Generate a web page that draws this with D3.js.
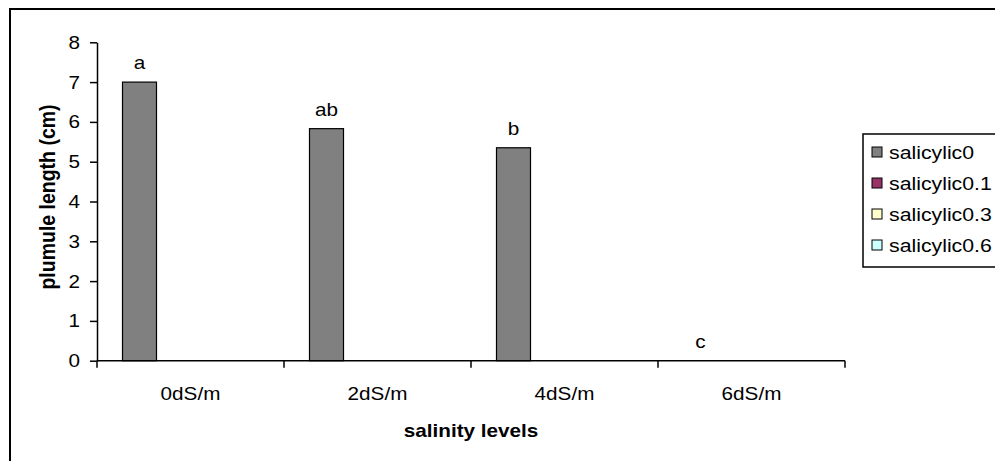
<!DOCTYPE html>
<html>
<head>
<meta charset="utf-8">
<script src="https://cdn.jsdelivr.net/npm/d3@7"></script>
<style>
  body { margin: 0; background: #fff; }
  text { font-family: "Liberation Sans", Arial, sans-serif; fill: #000; }
</style>
</head>
<body>
<svg id="chart" width="995" height="461"></svg>
<script>
var svg = d3.select("#chart");

// Data
var categories = ["0dS/m", "2dS/m", "4dS/m", "6dS/m"];
var seriesNames = ["salicylic0", "salicylic0.1", "salicylic0.3", "salicylic0.6"];
var salicylic0 = [7.0, 5.83, 5.35, 0];
var salicylic01 = [0, 0, 0, 0];
var salicylic03 = [0, 0, 0, 0];
var salicylic06 = [0, 0, 0, 0];
var letters = ["a", "ab", "b", "c"];
var yTicks = [0, 1, 2, 3, 4, 5, 6, 7, 8];

// Colors (Excel palette)
var colors = ["#808080", "#993366", "#FFFFCC", "#CCFFFF"];

// Dimensions
var dim = { left: 97, right: 845, top: 42.3, bottom: 360.7 };
var fs = 18;      // font size
var sx = 1.15;    // horizontal stretch of the text in the picture

var allSeries = [salicylic0, salicylic01, salicylic03, salicylic06];

// Scales
var xScale = d3.scaleBand().domain(categories).range([dim.left, dim.right]).padding(0);
var xInner = d3.scaleBand().domain(seriesNames).range([0, xScale.bandwidth()])
               .paddingInner(0).paddingOuter(0.75);
var yScale = d3.scaleLinear().domain([0, 8]).range([dim.bottom, dim.top]);

// helper for stretched text
function stretchedText(g, x, y, str, anchor, weight, rot, size) {
  return g.append("text")
          .attr("transform", "translate(" + x + "," + y + ") scale(" + sx + ",1)" + (rot ? " rotate(" + rot + ")" : ""))
          .attr("text-anchor", anchor)
          .style("font-size", (size || fs) + "px")
          .style("font-weight", weight || "normal")
          .text(str);
}

// Outer border
svg.append("rect")
   .attr("x", 10).attr("y", 9)
   .attr("width", 1000).attr("height", 500)
   .attr("fill", "none").attr("stroke", "#000").attr("stroke-width", 2);

// Bars
var table = [];
categories.forEach(function(c, i) {
  seriesNames.forEach(function(s, j) {
    table.push({ cat: c, series: s, value: allSeries[j][i], color: colors[j] });
  });
});

svg.append("g").selectAll("rect")
   .data(table)
   .enter()
   .append("rect")
   .attr("x", function(d) { return xScale(d.cat) + xInner(d.series); })
   .attr("y", function(d) { return yScale(d.value); })
   .attr("width", xInner.bandwidth())
   .attr("height", function(d) { return yScale(0) - yScale(d.value); })
   .attr("fill", function(d) { return d.color; })
   .attr("stroke", function(d) { return d.value > 0 ? "#000" : "none"; })
   .attr("stroke-width", 1.2);

// Significance letters above salicylic0 bars
var gLetters = svg.append("g");
categories.forEach(function(c, i) {
  var cx = xScale(c) + xInner(seriesNames[0]) + xInner.bandwidth() / 2;
  stretchedText(gLetters, cx, yScale(salicylic0[i]) - 13, letters[i], "middle");
});

// Y axis
var yAxis = d3.axisLeft(yScale).tickValues(yTicks).tickSize(7).tickSizeOuter(0).tickFormat("");
svg.append("g")
   .attr("transform", "translate(" + dim.left + ",0)")
   .call(yAxis)
   .call(function(g) {
     g.selectAll("path, line").attr("stroke", "#000").attr("stroke-width", 1.5);
   });
var gYLabels = svg.append("g");
yTicks.forEach(function(t) {
  stretchedText(gYLabels, 80, yScale(t) + 6.5, String(t), "end");
});

// X axis line and category boundary ticks
var gx = svg.append("g");
gx.append("line")
  .attr("x1", dim.left).attr("x2", dim.right)
  .attr("y1", yScale(0)).attr("y2", yScale(0))
  .attr("stroke", "#000").attr("stroke-width", 1.5);
var bounds = categories.map(function(c) { return xScale(c); }).concat([dim.right]);
gx.selectAll("line.tick")
  .data(bounds)
  .enter()
  .append("line")
  .attr("class", "tick")
  .attr("x1", function(d) { return d; }).attr("x2", function(d) { return d; })
  .attr("y1", yScale(0)).attr("y2", yScale(0) + 7)
  .attr("stroke", "#000").attr("stroke-width", 1.5);
categories.forEach(function(c) {
  stretchedText(gx, xScale(c) + xScale.bandwidth() / 2, 400, c, "middle");
});

// Axis titles
stretchedText(svg, (dim.left + dim.right) / 2, 437, "salinity levels", "middle", "bold");
stretchedText(svg, 55, 197, "plumule length (cm)", "middle", "bold", -90, 19.5);

// Legend
var legend = svg.append("g");
legend.append("rect")
      .attr("x", 863).attr("y", 134)
      .attr("width", 200).attr("height", 133)
      .attr("fill", "#fff").attr("stroke", "#000").attr("stroke-width", 1.5);
seriesNames.forEach(function(s, i) {
  var cy = 152 + i * 31;
  legend.append("rect")
        .attr("x", 872).attr("y", cy - 5)
        .attr("width", 10).attr("height", 10)
        .attr("fill", colors[i]).attr("stroke", "#000").attr("stroke-width", 1);
  stretchedText(legend, 889, cy + 6.5, s, "start", "normal", 0, 18.5);
});
</script>
</body>
</html>
